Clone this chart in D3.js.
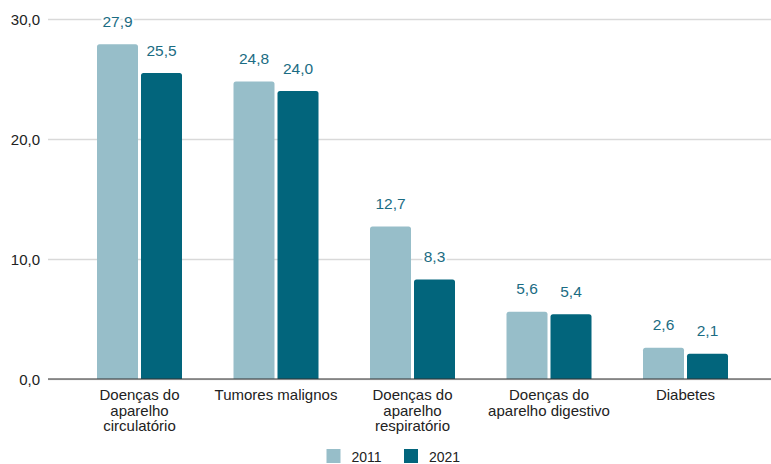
<!DOCTYPE html>
<html><head><meta charset="utf-8">
<script src="https://cdn.jsdelivr.net/npm/d3@7"></script>
<style>body{margin:0;background:#fff;}svg{display:block;font-family:"Liberation Sans",Arial,sans-serif;}</style>
</head><body>
<svg id="c" width="771" height="464"></svg>
<script>
const categories = [["Doenças do","aparelho","circulatório"],["Tumores malignos"],["Doenças do","aparelho","respiratório"],["Doenças do","aparelho digestivo"],["Diabetes"]];
const seriesNames = ["2011","2021"];
const values2011 = [27.9, 24.8, 12.7, 5.6, 2.6];
const values2021 = [25.5, 24.0, 8.3, 5.4, 2.1];
const yTicks = [0, 10, 20, 30];
const colors = ["#97bec9", "#02657c"];

const FONT = "'Liberation Sans', Arial, sans-serif";
const svg = d3.select("#c");
const fmt = v => v.toFixed(1).replace(".", ",");
const y = d3.scaleLinear().domain([0, 30]).range([379, 19]);
const x0 = d3.scaleBand().domain(d3.range(categories.length)).range([71.25, 753.75]).padding(0);
const x1 = d3.scaleBand().domain(seriesNames).range([x0.bandwidth()/2 - 42.5, x0.bandwidth()/2 + 42.5]).paddingInner(3/44).paddingOuter(0);
const data = [values2011, values2021];

// grid
const yAxis = d3.axisLeft(y).tickValues(yTicks).tickSize(-(771-48)).tickFormat(fmt).tickPadding(8);
const ga = svg.append("g").attr("transform","translate(48,0)").call(yAxis).attr("font-family", FONT);
ga.select(".domain").remove();
ga.selectAll(".tick line").attr("stroke","#d9d9d9").attr("stroke-width",1.5);
ga.selectAll(".tick text").attr("font-size",15).attr("fill","#222").attr("dy","0.36em");

function topRounded(x, yTop, w, h, r) {
  r = Math.min(r, h);
  return `M${x},${yTop+h}V${yTop+r}Q${x},${yTop} ${x+r},${yTop}H${x+w-r}Q${x+w},${yTop} ${x+w},${yTop+r}V${yTop+h}Z`;
}

const groups = svg.append("g").attr("font-family", FONT).selectAll("g").data(categories).join("g")
  .attr("transform", (d,i) => `translate(${x0(i)},0)`);
seriesNames.forEach((s, si) => {
  groups.append("path")
    .attr("d", (d,i) => topRounded(x1(s), y(data[si][i]), x1.bandwidth(), y(0)-y(data[si][i]), 2.5))
    .attr("fill", colors[si]);
  groups.append("text")
    .attr("class","vlabel")
    .attr("x", x1(s) + x1.bandwidth()/2)
    .attr("y", (d,i) => y(data[si][i]) - 17.5)
    .attr("text-anchor","middle").attr("font-size",15.5).attr("fill","#1b6c83")
    .attr("paint-order","stroke").attr("stroke","#fff").attr("stroke-width",4).attr("stroke-linejoin","round")
    .text((d,i) => fmt(data[si][i]));
});

// baseline
svg.append("line").attr("x1",48).attr("x2",771).attr("y1",y(0)).attr("y2",y(0)).attr("stroke","#333").attr("stroke-width",1);

// category labels
groups.append("text")
  .attr("x", x0.bandwidth()/2).attr("y", 400)
  .attr("text-anchor","middle").attr("font-size",15).attr("fill","#222")
  .selectAll("tspan").data(d => d).join("tspan")
  .attr("x", x0.bandwidth()/2).attr("dy", (d,i) => i ? 15.5 : 0).text(d => d);

// legend
const legendX = [326.5, 404];
const lg = svg.append("g").attr("font-family", FONT).selectAll("g").data(seriesNames).join("g")
  .attr("transform", (d,i) => `translate(${legendX[i]},449)`);
lg.append("rect").attr("width",14).attr("height",14).attr("fill",(d,i)=>colors[i]);
lg.append("text").attr("x",25).attr("y",13).attr("font-size",14).attr("fill","#222").text(d=>d);
</script>
</body></html>
